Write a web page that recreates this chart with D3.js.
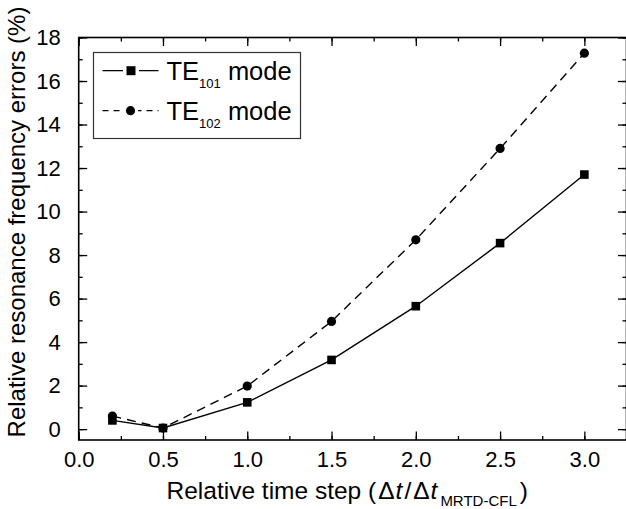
<!DOCTYPE html>
<html>
<head>
<meta charset="utf-8">
<script src="https://cdn.jsdelivr.net/npm/d3@7"></script>
<style>
  body { margin: 0; background: #fff; }
  text { font-family: "Liberation Sans", Arial, sans-serif; fill: #000; }
</style>
</head>
<body>
<div id="chart"></div>
<script>
var width = 626, height = 509;

// data
var steps = [0.2, 0.5, 1.0, 1.5, 2.0, 2.5, 3.0];
var te101 = [0.40, 0.05, 1.23, 3.18, 5.65, 8.55, 11.70];
var te102 = [0.60, 0.05, 1.98, 4.95, 8.70, 12.90, 17.28];
var xTicks = [0, 0.5, 1, 1.5, 2, 2.5, 3];
var yTicks = [0, 2, 4, 6, 8, 10, 12, 14, 16, 18];

var x = d3.scaleLinear().domain([0, 3.25]).range([78.7, 626.5]);
var y = d3.scaleLinear().domain([-0.5, 18]).range([440, 37.5]);

var svg = d3.select('#chart').append('svg')
  .attr('width', width)
  .attr('height', height);

// axes, ticks pointing inward
var xMinor = d3.range(0, 3.26, 0.25);
var yMinor = d3.range(0, 18.1, 1);

svg.append('g').attr('transform', 'translate(0,' + y.range()[0] + ')')
  .call(d3.axisBottom(x).tickValues(xMinor).tickSizeInner(-4).tickSizeOuter(0).tickFormat(''));
svg.append('g').attr('class', 'xmaj').attr('transform', 'translate(0,' + y.range()[0] + ')')
  .call(d3.axisBottom(x).tickValues(xTicks).tickSizeInner(-8.5).tickSizeOuter(0).tickPadding(18)
    .tickFormat(d3.format('.1f')));
svg.append('g').attr('transform', 'translate(0,' + y.range()[1] + ')')
  .call(d3.axisTop(x).tickValues(xMinor).tickSizeInner(-4).tickSizeOuter(0).tickFormat(''));
svg.append('g').attr('transform', 'translate(0,' + y.range()[1] + ')')
  .call(d3.axisTop(x).tickValues(xTicks).tickSizeInner(-8.5).tickSizeOuter(0).tickFormat(''));

svg.append('g').attr('transform', 'translate(' + x.range()[0] + ',0)')
  .call(d3.axisLeft(y).tickValues(yMinor).tickSizeInner(-4).tickSizeOuter(0).tickFormat(''));
svg.append('g').attr('class', 'ymaj').attr('transform', 'translate(' + x.range()[0] + ',0)')
  .call(d3.axisLeft(y).tickValues(yTicks).tickSizeInner(-8.5).tickSizeOuter(0).tickPadding(18));
svg.append('g').attr('transform', 'translate(' + x.range()[1] + ',0)')
  .call(d3.axisRight(y).tickValues(yMinor).tickSizeInner(-4).tickSizeOuter(0).tickFormat(''));
svg.append('g').attr('transform', 'translate(' + x.range()[1] + ',0)')
  .call(d3.axisRight(y).tickValues(yTicks).tickSizeInner(-8.5).tickSizeOuter(0).tickFormat(''));

svg.selectAll('.domain').remove();
svg.selectAll('.tick line').attr('stroke', '#000').attr('stroke-width', 1.3);
svg.selectAll('.tick text').attr('font-size', 22).attr('font-family', '"Liberation Sans", Arial, sans-serif');
svg.selectAll('.xmaj .tick text').attr('dy', '0.71em').attr('y', 11.5);

// frame
svg.append('rect')
  .attr('x', x.range()[0]).attr('y', y.range()[1])
  .attr('width', x.range()[1] - x.range()[0])
  .attr('height', y.range()[0] - y.range()[1])
  .attr('fill', 'none').attr('stroke', '#000').attr('stroke-width', 1.6);

// series
var line = d3.line()
  .x(function(d, i) { return x(steps[i]); })
  .y(function(d) { return y(d); });

svg.append('path').datum(te101).attr('d', line)
  .attr('fill', 'none').attr('stroke', '#000').attr('stroke-width', 1.4);
svg.append('path').datum(te102).attr('d', line)
  .attr('fill', 'none').attr('stroke', '#000').attr('stroke-width', 1.4)
  .attr('stroke-dasharray', '9,6');

svg.selectAll('rect.m101').data(te101).enter().append('rect')
  .attr('class', 'm101')
  .attr('x', function(d, i) { return x(steps[i]) - 4.3; })
  .attr('y', function(d) { return y(d) - 4.3; })
  .attr('width', 8.6).attr('height', 8.6).attr('fill', '#000');
svg.selectAll('circle.m102').data(te102).enter().append('circle')
  .attr('class', 'm102')
  .attr('cx', function(d, i) { return x(steps[i]); })
  .attr('cy', function(d) { return y(d); })
  .attr('r', 4.6).attr('fill', '#000');

// legend
var lg = svg.append('g');
lg.append('rect').attr('x', 93.5).attr('y', 52.5).attr('width', 207).attr('height', 86)
  .attr('fill', '#fff').attr('stroke', '#333').attr('stroke-width', 1.2);
var rows = [
  { y: 70.7, sub: '101', dash: null, shape: 'square' },
  { y: 110.7, sub: '102', dash: '6,5', shape: 'circle' }
];
rows.forEach(function(r) {
  lg.append('line').attr('x1', 102.5).attr('x2', 158.5).attr('y1', r.y).attr('y2', r.y)
    .attr('stroke', '#000').attr('stroke-width', 1.3)
    .attr('stroke-dasharray', r.dash);
  if (r.shape === 'square') {
    lg.append('rect').attr('x', 126.5).attr('y', r.y - 4.5).attr('width', 9).attr('height', 9)
      .attr('fill', '#000').attr('stroke', '#fff').attr('stroke-width', 7).attr('paint-order', 'stroke');
  } else {
    lg.append('circle').attr('cx', 130.5).attr('cy', r.y).attr('r', 4.6)
      .attr('fill', '#000').attr('stroke', '#fff').attr('stroke-width', 6).attr('paint-order', 'stroke');
  }
  var t = lg.append('text').attr('x', 166.5).attr('y', r.y + 9).attr('font-size', 25.5);
  t.append('tspan').text('TE');
  t.append('tspan').attr('font-size', 13).attr('dy', 8).text(r.sub);
  t.append('tspan').attr('dy', -8).text(' mode');
});

// axis titles
var xt = svg.append('text').attr('x', 166.5).attr('y', 499).attr('font-size', 24.5);
xt.append('tspan').text('Relative time step (');
xt.append('tspan').attr('dx', 2).text('\u0394');
xt.append('tspan').attr('font-style', 'italic').attr('dx', 1).text('t');
xt.append('tspan').attr('dx', 2).text('/');
xt.append('tspan').attr('dx', 2).text('\u0394');
xt.append('tspan').attr('font-style', 'italic').attr('dx', 1).text('t');
xt.append('tspan').attr('font-size', 15).attr('dx', 3).attr('dy', 7).text('MRTD-CFL');
xt.append('tspan').attr('dx', 3).attr('dy', -7).text(')');

svg.append('text')
  .attr('transform', 'translate(25,222) rotate(-90)')
  .attr('text-anchor', 'middle')
  .attr('font-size', 24)
  .text('Relative resonance frequency errors (%)');
</script>
</body>
</html>
